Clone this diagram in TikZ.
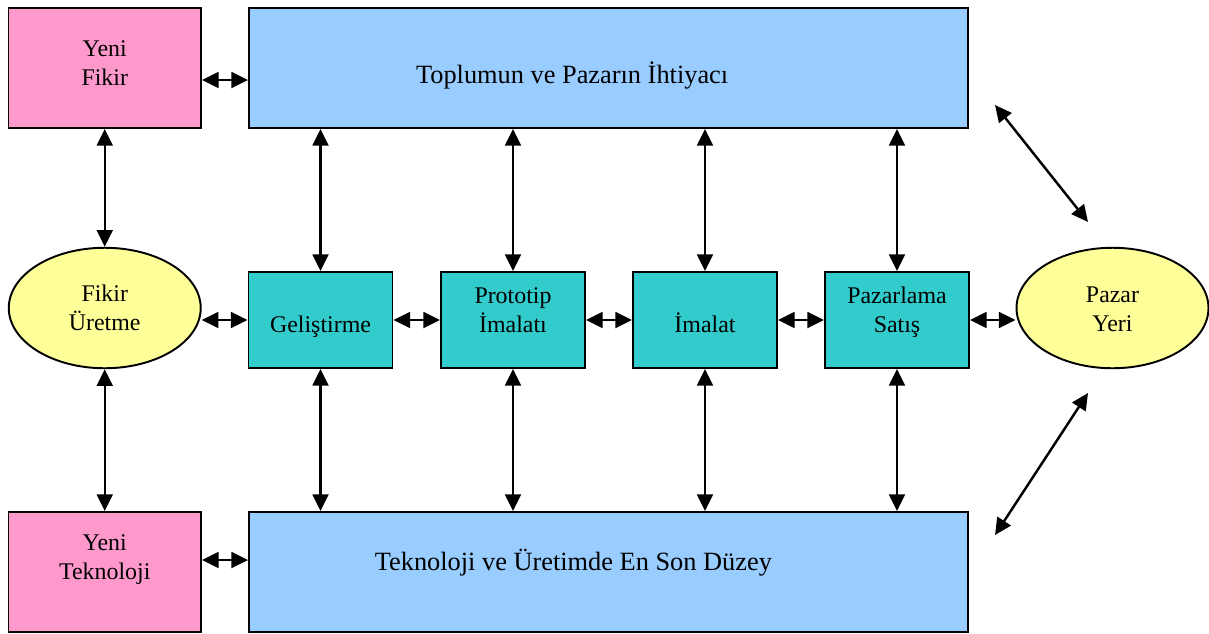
\documentclass[tikz,border=0pt]{standalone}
\usepackage{fontspec}
\setmainfont{Liberation Serif}
\usetikzlibrary{arrows.meta,calc,shapes.geometric}
\definecolor{pinkfill}{HTML}{FF99CC}
\definecolor{bluefill}{HTML}{99CCFF}
\definecolor{tealfill}{HTML}{33CCCC}
\definecolor{yellowfill}{HTML}{FFFF99}
\begin{document}
\begin{tikzpicture}[
        x=0.02cm, y=-0.02cm,
        box/.style={draw, line width=1.1pt, inner sep=0pt},
        pinkbox/.style={box, fill=pinkfill, minimum width=3.85cm, minimum height=2.4cm},
        bluebox/.style={box, fill=bluefill, minimum width=14.38cm, minimum height=2.4cm},
        tealbox/.style={box, fill=tealfill, minimum width=2.88cm, minimum height=1.92cm},
        oval/.style={box, ellipse, fill=yellowfill, minimum width=3.84cm, minimum height=2.41cm},
        txt/.style={align=center, font=\fontsize{13.6}{16.5}\selectfont},
        bigtxt/.style={align=center, font=\fontsize{15}{18}\selectfont},
        arrow/.style={{Triangle[length=9.5pt, width=9pt]}-{Triangle[length=9.5pt, width=9pt]}, line width=1.4pt}
    ]
    \useasboundingbox (0,0) rectangle (1209,633);
    % Nodes
    \node[pinkbox, label={[txt, yshift=3pt]center:Yeni\\Fikir}] (yfikir) at (104.75, 68) {};
    \node[bluebox, label={[bigtxt, xshift=-20.7pt, yshift=-4.3pt]center:Toplumun ve Pazarın İhtiyacı}] (ihtiyac) at (608.5, 68) {};
    \node[oval, label={[txt]center:Fikir\\Üretme}] (fikir) at (104.75, 308) {};
    \node[tealbox, label={[txt, yshift=-4pt]center:Geliştirme}] (gelis) at (320.5, 320) {};
    \node[tealbox, label={[txt, yshift=5.5pt]center:Prototip\\İmalatı}] (proto) at (513, 320) {};
    \node[tealbox, label={[txt, yshift=-1.6pt]center:İmalat}] (imalat) at (705, 320) {};
    \node[tealbox, label={[txt, yshift=4.5pt]center:Pazarlama\\Satış}] (satis) at (897, 320) {};
    \node[oval, label={[txt, yshift=-1pt]center:Pazar\\Yeri}] (pazar) at (1112.5, 308) {};
    \node[pinkbox, label={[txt, yshift=7pt]center:Yeni\\Teknoloji}] (yteknoloji) at (104.75, 572) {};
    \node[bluebox, label={[bigtxt, xshift=-20pt, yshift=5.4pt]center:Teknoloji ve Üretimde En Son Düzey}] (duzey) at (608.5, 572) {};
    \coordinate (d1) at (995, 105);
    \coordinate (d2) at (1088, 222);
    \coordinate (d3) at (1088, 393);
    \coordinate (d4) at (995, 535);
    % Edges
    \draw[arrow] ($(yfikir.east)+(0,12)$) -- ($(ihtiyac.west)+(0,12)$);
    \draw[arrow] ($(yteknoloji.east)+(0,-12)$) -- ($(duzey.west)+(0,-12)$);
    \draw[arrow] (yfikir) -- (fikir);
    \draw[arrow] (fikir) -- (yteknoloji);
    \draw[arrow] (gelis.west -| fikir.east) -- (gelis.west);
    \draw[arrow] (gelis) -- (proto);
    \draw[arrow] (proto) -- (imalat);
    \draw[arrow] (imalat) -- (satis);
    \draw[arrow] (satis.east) -- (satis.east -| pazar.west);
    \foreach \n in {gelis, proto, imalat, satis} {
        \draw[arrow] (\n |- ihtiyac.south) -- (\n.north);
        \draw[arrow] (\n.south) -- (\n |- duzey.north);
    }
    \draw[arrow] (d1) -- (d2);
    \draw[arrow] (d3) -- (d4);
\end{tikzpicture}
\end{document}
